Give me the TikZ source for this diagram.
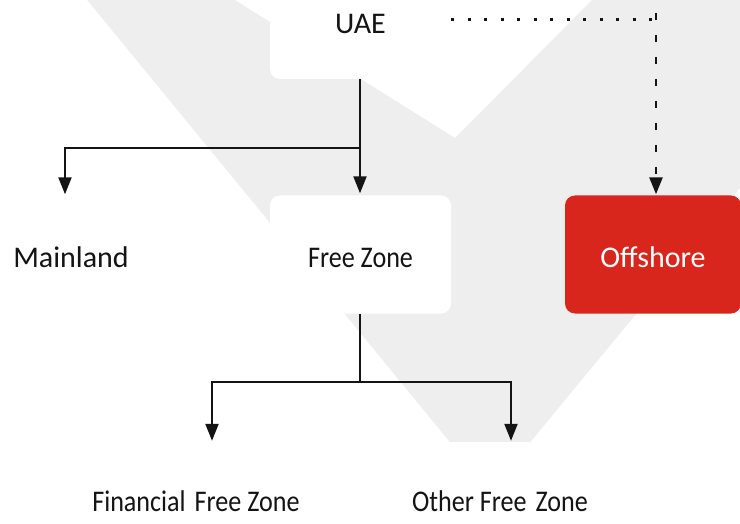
\documentclass[tikz,border=0pt]{standalone}
\usepackage{fontspec}
\setmainfont{Carlito}
\newfontfamily\narrowfont[FakeStretch=0.87]{Carlito}
\usetikzlibrary{arrows.meta}
\definecolor{bandgray}{HTML}{EEEEEE}
\definecolor{offred}{HTML}{D9261C}
\definecolor{ink}{HTML}{141414}
\begin{document}
\begin{tikzpicture}[x=1pt,y=-1pt,
  box/.style={rounded corners=10pt, minimum width=181pt, minimum height=118pt,
    inner sep=0pt, font=\fontsize{30}{36}\selectfont, text=ink, fill=white},
  lowtext/.style={text height=27pt, text depth=0pt},
  redbox/.style={box, lowtext, fill=offred, text=white, minimum width=176pt},
  arr/.style={-{Triangle[length=17pt,width=13pt]}, line width=2.2pt, draw=ink},
  link/.style={line width=2.2pt, draw=ink},
  dotline/.style={line width=3pt, draw=ink, dash pattern=on 3pt off 13.5pt},
  dashline/.style={-{Triangle[length=17pt,width=13pt]}, line width=2.6pt, draw=ink,
    dash pattern=on 7pt off 15pt}]
\useasboundingbox (0,0) rectangle (740,524);
\clip (0,0) rectangle (740,524);
% large light check-mark band behind the chart
\fill[bandgray] (83,-5) -- (227,-5) -- (455,138) -- (597,-5) -- (745,-5)
  -- (745,182) -- (490,491) -- cycle;
% boxes
\node[box, lowtext] (uae) at (360.5,20) {UAE};
\node[box, lowtext] (ml) at (71,254.5) {Mainland};
\node[box, lowtext, font=\fontsize{30}{36}\narrowfont] (fz) at (360.5,254.5) {Free Zone};
\node[redbox] (off) at (653,254.5) {Offshore};
\node[box, font=\fontsize{30}{36}\narrowfont] (ffz) at (196,501) {Financial\hspace{9pt}Free Zone};
\node[box, font=\fontsize{30}{36}\narrowfont] (ofz) at (500,501) {Other Free\hspace{9pt}Zone};
% junctions
\coordinate (j1) at (360,148);
\coordinate (j2) at (360,382);
\coordinate (c1) at (656,20);
% connectors
\draw[arr, shorten >=2pt] (uae.south -| j1) -- (fz.north -| j1);
\draw[arr, shorten >=1pt] (j1) -| ([xshift=-6pt]ml.north);
\draw[link] (fz.south -| j2) -- (j2);
\draw[arr, shorten >=1pt] (j2) -| ([xshift=16pt]ffz.north);
\draw[arr, shorten >=1pt] (j2) -| ([xshift=11pt]ofz.north);
\draw[dotline] (uae.east) -- (c1);
\draw[dashline, shorten >=1pt] ([yshift=7pt]c1) -- (off.north -| c1);
\end{tikzpicture}
\end{document}
